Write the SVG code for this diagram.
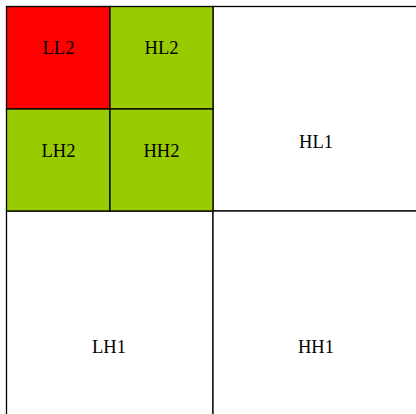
<svg xmlns="http://www.w3.org/2000/svg" width="416" height="414" viewBox="0 0 416 414">
<style>
.c{stroke:#000;stroke-width:1.3}
.t{font-family:"Liberation Serif","Times New Roman",serif;font-size:18.5px;fill:#000;text-anchor:middle}
</style>
<rect width="416" height="414" fill="#fff"/>
<g id="HL1"><rect class="c" x="213" y="6.5" width="210" height="204.5" fill="#fff"/><text class="t" x="316" y="147.5">HL1</text></g>
<g id="LH1"><rect class="c" x="6.5" y="211" width="206.5" height="210" fill="#fff"/><text class="t" x="109" y="352.5">LH1</text></g>
<g id="HH1"><rect class="c" x="213" y="211" width="210" height="210" fill="#fff"/><text class="t" x="316" y="352.5">HH1</text></g>
<g id="LL2"><rect class="c" x="6.5" y="6.5" width="103.5" height="102.5" fill="#ff0000"/><text class="t" x="58.5" y="53.5">LL2</text></g>
<g id="HL2"><rect class="c" x="110" y="6.5" width="103" height="102.5" fill="#99cc00"/><text class="t" x="161.5" y="53.5">HL2</text></g>
<g id="LH2"><rect class="c" x="6.5" y="109" width="103.5" height="102" fill="#99cc00"/><text class="t" x="58.5" y="157">LH2</text></g>
<g id="HH2"><rect class="c" x="110" y="109" width="103" height="102" fill="#99cc00"/><text class="t" x="161.5" y="157">HH2</text></g>
<g id="connectors"></g>
</svg>
